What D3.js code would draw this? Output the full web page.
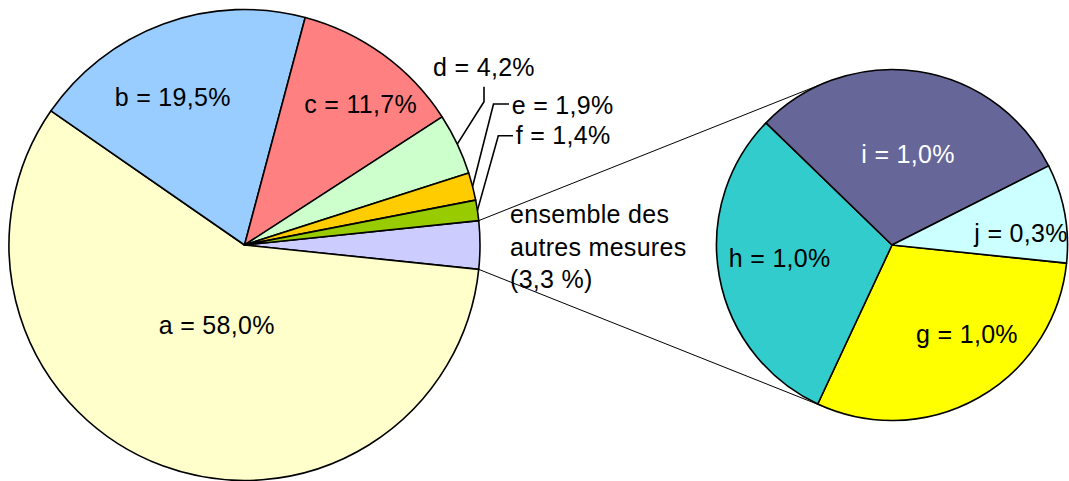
<!DOCTYPE html>
<html>
<head>
<meta charset="utf-8">
<script src="https://cdn.jsdelivr.net/npm/d3@7"></script>
<style>
  html, body { margin: 0; padding: 0; background: #fff; }
  svg { display: block; }
  text { font-family: "Liberation Sans", Arial, sans-serif; letter-spacing: 0.3px; }
</style>
</head>
<body>
<script>
// ---- data ----
const categories = ['a', 'b', 'c', 'd', 'e', 'f'];
const values = [58.0, 19.5, 11.7, 4.2, 1.9, 1.4];
const otherCategories = ['g', 'h', 'i', 'j'];
const otherValues = [1.0, 1.0, 1.0, 0.3];
const otherLabelLines = ['ensemble des', 'autres mesures'];

// ---- styles ----
const mainColors = { other: '#CCCCFF', a: '#FFFFCC', b: '#99CCFF', c: '#FF8080', d: '#CCFFCC', e: '#FFCC00', f: '#99CC00' };
const subColors = { g: '#FFFF00', h: '#33CCCC', i: '#666699', j: '#CCFFFF' };
const subTextColors = { g: '#000', h: '#000', i: '#fff', j: '#000' };

const W = 1069, H = 481;
const main = { cx: 244.5, cy: 245, r: 235.5 };
const sub = { cx: 892, cy: 245, r: 175.5 };
const fontSize = 25;

// label layout (offsets relative to pie centres)
const mainInside = { a: [-27.8, 89.3], b: [-71.8, -139], c: [116.2, -131.7] };
const subInside = { g: [75, 98.3], h: [-112.3, 22.3], i: [16, -81.7], j: [129, -3.3] };
// outside labels: text anchor point and leader elbow points (relative to main centre)
const outside = {
  d: { anchor: 'middle', text: [239.5, -169], pts: [[239.5, -158.3], [239.5, -143.3]] },
  e: { anchor: 'start', text: [267.2, -131], pts: [[264.5, -141], [249, -141]] },
  f: { anchor: 'start', text: [271.2, -100.7], pts: [[268.5, -109.3], [253.8, -109.3]] }
};
const otherTextPos = [265.5, -21.7];
const lineGap = 32.5;

const fmt = v => v.toFixed(1).replace('.', ',');

const svg = d3.select('body').append('svg').attr('width', W).attr('height', H);

const otherSum = d3.sum(otherValues);
const total = d3.sum(values) + otherSum;
const otherAngle = 2 * Math.PI * otherSum / total;

const mainData = [{ name: 'other', value: otherSum }].concat(categories.map((c, i) => ({ name: c, value: values[i] })));
const mainStart = Math.PI / 2 - otherAngle / 2;
const mainPie = d3.pie().sort(null).value(d => d.value).startAngle(mainStart).endAngle(mainStart + 2 * Math.PI);
const mainArcs = mainPie(mainData);

const subData = otherCategories.map((c, i) => ({ name: c, value: otherValues[i] }));
const subStart = Math.PI / 2 + otherAngle / 2;
const subPie = d3.pie().sort(null).value(d => d.value).startAngle(subStart).endAngle(subStart + 2 * Math.PI);
const subArcs = subPie(subData);

const polar = (c, r, a) => [c.cx + r * Math.sin(a), c.cy - r * Math.cos(a)];

// ---- connector lines (tangents from the "other" slice edges to the secondary pie) ----
const otherArc = mainArcs[0];
const p1 = polar(main, main.r, otherArc.startAngle);
const p2 = polar(main, main.r, otherArc.endAngle);
function tangent(p, upper) {
  const dx = p[0] - sub.cx, dy = p[1] - sub.cy;
  const d = Math.hypot(dx, dy);
  const phi = Math.atan2(dy, dx);
  const al = Math.acos(sub.r / d);
  const t1 = [sub.cx + sub.r * Math.cos(phi + al), sub.cy + sub.r * Math.sin(phi + al)];
  const t2 = [sub.cx + sub.r * Math.cos(phi - al), sub.cy + sub.r * Math.sin(phi - al)];
  return upper ? (t1[1] < t2[1] ? t1 : t2) : (t1[1] > t2[1] ? t1 : t2);
}
const t1 = tangent(p1, true), t2 = tangent(p2, false);
svg.append('g').selectAll('line').data([[p1, t1], [p2, t2]]).join('line')
  .attr('x1', d => d[0][0]).attr('y1', d => d[0][1])
  .attr('x2', d => d[1][0]).attr('y2', d => d[1][1])
  .attr('stroke', '#000').attr('stroke-width', 1);

// ---- main pie ----
const mainArcGen = d3.arc().innerRadius(0).outerRadius(main.r);
svg.append('g').attr('transform', `translate(${main.cx},${main.cy})`)
  .selectAll('path').data(mainArcs).join('path')
  .attr('d', mainArcGen)
  .attr('fill', d => mainColors[d.data.name])
  .attr('stroke', '#000').attr('stroke-width', 1.6).attr('stroke-linejoin', 'round');

// ---- secondary pie ----
const subArcGen = d3.arc().innerRadius(0).outerRadius(sub.r);
svg.append('g').attr('transform', `translate(${sub.cx},${sub.cy})`)
  .selectAll('path').data(subArcs).join('path')
  .attr('d', subArcGen)
  .attr('fill', d => subColors[d.data.name])
  .attr('stroke', '#000').attr('stroke-width', 1.6).attr('stroke-linejoin', 'round');

// ---- labels ----
const lab = svg.append('g').attr('font-size', fontSize);
mainArcs.forEach(d => {
  const n = d.data.name;
  const txt = `${n} = ${fmt(d.data.value)}%`;
  if (mainInside[n]) {
    lab.append('text').attr('x', main.cx + mainInside[n][0]).attr('y', main.cy + mainInside[n][1])
      .attr('text-anchor', 'middle').attr('fill', '#000').text(txt);
  } else if (outside[n]) {
    const o = outside[n];
    lab.append('text').attr('x', main.cx + o.text[0]).attr('y', main.cy + o.text[1])
      .attr('text-anchor', o.anchor).attr('fill', '#000').text(txt);
    const mid = (d.startAngle + d.endAngle) / 2;
    const edge = polar(main, main.r, mid);
    const pts = o.pts.map(p => [main.cx + p[0], main.cy + p[1]]);
    pts.push(edge);
    svg.append('path').attr('d', d3.line()(pts)).attr('fill', 'none')
      .attr('stroke', '#000').attr('stroke-width', 1.6);
  }
});
subArcs.forEach(d => {
  const n = d.data.name;
  lab.append('text').attr('x', sub.cx + subInside[n][0]).attr('y', sub.cy + subInside[n][1])
    .attr('text-anchor', 'middle').attr('fill', subTextColors[n])
    .text(`${n} = ${fmt(d.data.value)}%`);
});
const otherLines = otherLabelLines.concat([`(${fmt(otherSum)} %)`]);
lab.append('g').selectAll('text').data(otherLines).join('text')
  .attr('x', main.cx + otherTextPos[0])
  .attr('y', (d, i) => main.cy + otherTextPos[1] + i * lineGap)
  .attr('fill', '#000').text(d => d);
</script>
</body>
</html>
